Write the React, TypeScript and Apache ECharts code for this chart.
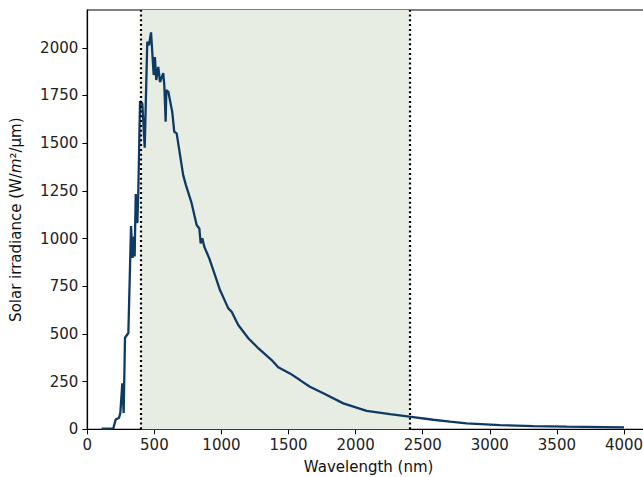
import React, { useEffect, useRef } from "react";
import * as echarts from "echarts";

const wavelengths = [107,194,212,236,246,261,271,281,306,326,338,348,353,361,373,380,393,410,428,447,460,475,495,504,514,529,542,566,574,584,589,604,633,648,666,715,735,778,815,835,845,857,872,909,939,989,1051,1076,1125,1200,1274,1374,1423,1510,1585,1659,1759,1908,2082,2256,2400,2578,2703,2827,3075,3323,3572,4000];
const irradiance = [3,5,52,59,85,241,85,480,505,1066,898,1010,906,1233,1081,1238,1720,1708,1476,2031,2013,2081,1857,1951,1831,1900,1820,1867,1804,1612,1778,1769,1664,1560,1551,1331,1280,1184,1071,1053,975,1001,957,896,835,730,634,616,547,477,425,363,325,293,258,223,189,136,97,79,66,50,40,31,22,17,14,10];
const xTicks = [0,500,1000,1500,2000,2500,3000,3500,4000];
const yTicks = [0,250,500,750,1000,1250,1500,1750,2000];
const frtRange = [400, 2400];
const frtLabel = "FRT wavelengths";

export default function App() {
  const ref = useRef<HTMLDivElement>(null);
  useEffect(() => {
    if (!ref.current) return;
    const chart = echarts.init(ref.current, null, { renderer: "svg" });
    const font = "DejaVu Sans";
    const fs = 15;
    chart.setOption({
      animation: false,
      backgroundColor: "#ffffff",
      grid: {
        left: 87.3, right: -7, top: 10, bottom: 47.7,
        containLabel: false, outerBoundsMode: "none",
        show: true, borderColor: "#000", borderWidth: 1.2, backgroundColor: "transparent",
      },
      xAxis: {
        type: "value",
        min: 0,
        max: 4194,
        name: "Wavelength (nm)",
        nameLocation: "middle",
        nameGap: 30,
        nameTextStyle: { fontFamily: font, fontSize: fs, color: "#111" },
        splitLine: { show: false },
        axisLine: { show: true, lineStyle: { color: "#000", width: 1.2 } },
        axisTick: { show: true, length: 5, lineStyle: { color: "#000" }, customValues: xTicks },
        axisLabel: { fontFamily: font, fontSize: fs, color: "#222", margin: 8, customValues: xTicks, formatter: (v: number) => String(v) },
      },
      yAxis: {
        type: "value",
        min: 0,
        max: 2198,
        name: "{a|Solar irradiance (W/}{i|m}{a|²/μm)}",
        nameLocation: "middle",
        nameGap: 64,
        nameTextStyle: {
          fontFamily: font, fontSize: fs, color: "#111",
          rich: {
            a: { fontFamily: font, fontSize: fs, color: "#111" },
            i: { fontFamily: font, fontSize: fs, color: "#111", fontStyle: "italic" },
          },
        },
        splitLine: { show: false },
        axisLine: { show: true, lineStyle: { color: "#000", width: 1.2 } },
        axisTick: { show: true, length: 5, lineStyle: { color: "#000" }, customValues: yTicks },
        axisLabel: { fontFamily: font, fontSize: fs, color: "#222", margin: 9, customValues: yTicks, formatter: (v: number) => String(v) },
      },
      series: [
        {
          type: "line",
          data: wavelengths.map((w, i) => [w, irradiance[i]]),
          showSymbol: false,
          symbol: "none",
          lineStyle: { color: "#0e3a63", width: 2.3 },
          z: 3,
          markArea: {
            silent: true,
            itemStyle: { color: "#e7ede3" },
            data: [[{ xAxis: frtRange[0] }, { xAxis: frtRange[1] }]],
          },
          markLine: {
            silent: true,
            symbol: "none",
            label: { show: false },
            lineStyle: { color: "#000", width: 2.2, type: [2, 2.8] },
            data: [{ xAxis: frtRange[0] }, { xAxis: frtRange[1] }],
          },
        },
      ],
      graphic: [
        {
          type: "text",
          left: 202,
          top: 19,
          style: { text: frtLabel, fontFamily: "Lato", fontSize: 19, fill: "#000" },
        },
      ],
    });
    return () => chart.dispose();
  }, []);
  return <div ref={ref} style={{ position: "fixed", left: 0, top: 0, width: 643, height: 477 }} />;
}
